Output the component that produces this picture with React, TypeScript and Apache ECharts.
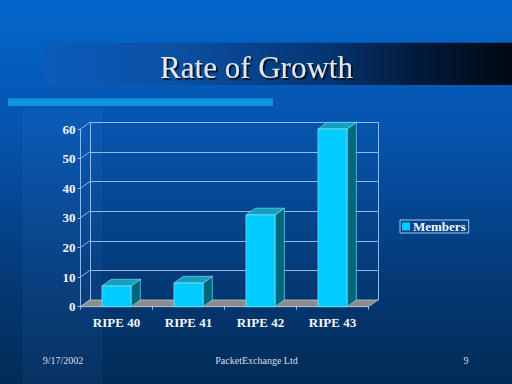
import React, { useEffect, useRef } from "react";
import * as echarts from "echarts";

const categories = ["RIPE 40", "RIPE 41", "RIPE 42", "RIPE 43"];
const members = [7, 8, 31, 60];
const yTicks = [0, 10, 20, 30, 40, 50, 60];
const titleText = "Rate of Growth";
const footerDate = "9/17/2002";
const footerCompany = "PacketExchange Ltd";
const footerPage = "9";
const seriesName = "Members";

const DX = 9.3;
const DY = -6.7;
const FONT = "'Liberation Serif', 'Times New Roman', serif";
const LINE = "#93b8ea";

export default function App() {
  const ref = useRef<HTMLDivElement>(null);
  useEffect(() => {
    if (!ref.current) return;
    const chart = echarts.init(ref.current, null, { renderer: "svg" });
    const labelStyle = {
      fontFamily: FONT,
      fontWeight: "bold" as const,
      fontSize: 13,
      color: "#f4f6fa",
    };
    const option: any = {
      animation: false,
      backgroundColor: {
        type: "linear",
        x: 0,
        y: 0,
        x2: 0,
        y2: 1,
        colorStops: [
          { offset: 0, color: "#0367cd" },
          { offset: 0.35, color: "#0653ac" },
          { offset: 0.7, color: "#043b79" },
          { offset: 1, color: "#022b56" },
        ],
      },
      graphic: [
        {
          type: "rect",
          z: -10,
          shape: { x: 22, y: 108, width: 80, height: 276 },
          style: { fill: "rgba(90,160,255,0.07)" },
        },
        {
          type: "rect",
          z: -9,
          shape: { x: 43, y: 42.7, width: 469, height: 42.3 },
          style: {
            fill: {
              type: "linear",
              x: 0,
              y: 0,
              x2: 1,
              y2: 0,
              colorStops: [
                { offset: 0, color: "#0b5cba" },
                { offset: 0.3, color: "#0a4fa2" },
                { offset: 0.6, color: "#053573" },
                { offset: 0.8, color: "#021a3a" },
                { offset: 1, color: "#000814" },
              ],
            },
          },
        },
        {
          type: "text",
          z: -7,
          x: 256.5,
          y: 67.5,
          style: {
            text: titleText,
            font: `31px ${FONT}`,
            fill: "#e4e6ea",
            align: "center",
            verticalAlign: "middle",
            textShadowColor: "rgba(5,10,20,0.95)",
            textShadowOffsetX: 1.8,
            textShadowOffsetY: 1.8,
            textShadowBlur: 1,
          },
        },
        {
          type: "rect",
          z: -8,
          shape: { x: 8, y: 98.3, width: 265, height: 7.7 },
          style: { fill: "#0e96dc" },
        },
        {
          type: "text",
          x: 63,
          y: 360,
          style: {
            text: footerDate,
            font: `10px ${FONT}`,
            fill: "#d8dee8",
            align: "center",
            verticalAlign: "middle",
          },
        },
        {
          type: "text",
          x: 256.5,
          y: 360,
          style: {
            text: footerCompany,
            font: `10px ${FONT}`,
            fill: "#d8dee8",
            align: "center",
            verticalAlign: "middle",
          },
        },
        {
          type: "text",
          x: 466,
          y: 360,
          style: {
            text: footerPage,
            font: `10px ${FONT}`,
            fill: "#d8dee8",
            align: "center",
            verticalAlign: "middle",
          },
        },
      ],
      legend: {
        left: 400,
        top: 220,
        orient: "vertical",
        itemWidth: 8,
        itemHeight: 8,
        itemGap: 0,
        padding: [0, 3, 0, 2],
        borderColor: "#a9c9f0",
        borderWidth: 1,
        data: [{ name: seriesName, icon: "rect", itemStyle: { color: "#00ccff" } }],
        textStyle: { ...labelStyle, padding: [0, 0, 0, -2], lineHeight: 13 },
      },
      grid: [
        { left: 80.5, top: 129, width: 288, height: 177.7 },
        { left: 80.5 + DX, top: 129 + DY, width: 288, height: 177.7 },
      ],
      xAxis: [
        {
          type: "category",
          gridIndex: 0,
          data: categories,
          axisLine: { show: true, lineStyle: { color: LINE, width: 1 } },
          axisTick: { show: true, length: 3, lineStyle: { color: LINE } },
          axisLabel: { ...labelStyle, margin: 9 },
          splitLine: { show: false },
        },
        {
          type: "category",
          gridIndex: 1,
          data: categories,
          show: false,
        },
      ],
      yAxis: [
        {
          type: "value",
          gridIndex: 0,
          min: 0,
          max: 60,
          interval: 10,
          axisLine: { show: true, lineStyle: { color: LINE, width: 1 } },
          axisTick: { show: true, length: 3, lineStyle: { color: LINE } },
          axisLabel: { ...labelStyle, margin: 5 },
          splitLine: { show: false },
        },
        {
          type: "value",
          gridIndex: 1,
          min: 0,
          max: 60,
          interval: 10,
          axisLine: { show: true, lineStyle: { color: LINE, width: 1 } },
          axisTick: { show: false },
          axisLabel: { show: false },
          splitLine: { show: true, lineStyle: { color: LINE, width: 1 } },
        },
        {
          type: "value",
          gridIndex: 1,
          position: "right",
          min: 0,
          max: 60,
          interval: 10,
          axisLine: { show: true, lineStyle: { color: LINE, width: 1 } },
          axisTick: { show: false },
          axisLabel: { show: false },
          splitLine: { show: false },
        },
      ],
      series: [
        {
          type: "custom",
          name: "frame",
          xAxisIndex: 0,
          yAxisIndex: 0,
          z: 1,
          silent: true,
          data: yTicks.map((v) => [0, v]),
          renderItem: (params: any, api: any) => {
            const v = api.value(1);
            const half = api.size([1, 0])[0] / 2;
            const c = api.coord([0, v]);
            const xl = c[0] - half;
            const children: any[] = [
              {
                type: "line",
                shape: { x1: xl, y1: c[1], x2: xl + DX, y2: c[1] + DY },
                style: { stroke: LINE, lineWidth: 1 },
              },
            ];
            if (params.dataIndex === 0) {
              const xr = api.coord([categories.length - 1, 0])[0] + half;
              children.unshift({
                type: "polygon",
                shape: {
                  points: [
                    [xl, c[1]],
                    [xr, c[1]],
                    [xr + DX, c[1] + DY],
                    [xl + DX, c[1] + DY],
                  ],
                },
                style: { fill: "#8c8c8c", stroke: "#b9c9dc", lineWidth: 0.8 },
              });
            }
            return { type: "group", children };
          },
        },
        {
          type: "custom",
          name: seriesName,
          xAxisIndex: 0,
          yAxisIndex: 0,
          z: 3,
          itemStyle: { color: "#00ccff" },
          data: members.map((v, i) => [i, v]),
          renderItem: (_params: any, api: any) => {
            const top = api.coord([api.value(0), api.value(1)]);
            const base = api.coord([api.value(0), 0]);
            const w = api.size([1, 0])[0] * 0.405;
            const l = top[0] - w / 2;
            const r = top[0] + w / 2;
            const t = top[1];
            const b = base[1];
            const edge = { stroke: "rgba(150,232,255,0.85)", lineWidth: 0.7 };
            return {
              type: "group",
              children: [
                {
                  type: "polygon",
                  shape: {
                    points: [
                      [r, t],
                      [r + DX, t + DY],
                      [r + DX, b + DY],
                      [r, b],
                    ],
                  },
                  style: { fill: "#00687c", ...edge },
                },
                {
                  type: "polygon",
                  shape: {
                    points: [
                      [l, t],
                      [r, t],
                      [r + DX, t + DY],
                      [l + DX, t + DY],
                    ],
                  },
                  style: { fill: "#139fbe", ...edge },
                },
                {
                  type: "rect",
                  shape: { x: l, y: t, width: w, height: b - t },
                  style: { fill: "#00ccff", ...edge },
                },
              ],
            };
          },
        },
      ],
    };
    chart.setOption(option);
    return () => chart.dispose();
  }, []);
  return (
    <div
      ref={ref}
      style={{ position: "fixed", left: 0, top: 0, width: 512, height: 384 }}
    />
  );
}
